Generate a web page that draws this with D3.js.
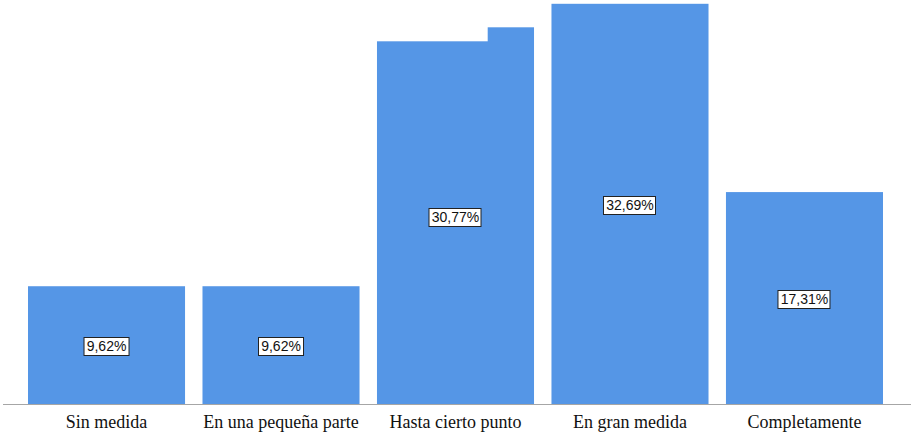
<!DOCTYPE html>
<html><head><meta charset="utf-8">
<script src="https://cdn.jsdelivr.net/npm/d3@7"></script>
<style>body{margin:0;background:#fff;}</style>
</head><body>
<svg id="c" width="911" height="432"></svg>
<script>
const categories = ["Sin medida", "En una pequeña parte", "Hasta cierto punto", "En gran medida", "Completamente"];
const values = [9.62, 9.62, 30.77, 32.69, 17.31];
const labels = ["9,62%", "9,62%", "30,77%", "32,69%", "17,31%"];

const svg = d3.select("#c");
const x = d3.scaleBand().domain(categories).range([28, 883]).paddingInner(0.1).paddingOuter(0);
const y = d3.scaleLinear().domain([0, 33]).range([404, 0]);

svg.selectAll("rect.bar").data(categories).join("rect")
  .attr("class", "bar")
  .attr("x", d => x(d))
  .attr("width", x.bandwidth())
  .attr("y", (d, i) => y(values[i]))
  .attr("height", (d, i) => y(0) - y(values[i]))
  .attr("fill", "#5596e6");

// white occluding area seen at top of third bar in the reference
const occ = categories[2];
svg.append("rect")
  .attr("x", x(occ) - 1)
  .attr("y", 0)
  .attr("width", x.bandwidth() * 0.705 + 1)
  .attr("height", y(values[2]) + 14)
  .attr("fill", "#fff");

// axis
const axis = d3.axisBottom(x).tickSize(0).tickPadding(11);
const g = svg.append("g").attr("transform", `translate(0,${y(0)})`).call(axis);
g.select(".domain").remove();
g.append("line").attr("x1", 3).attr("x2", 911).attr("y1", 0.5).attr("y2", 0.5)
  .attr("stroke", "#a6a6a6").attr("stroke-width", 1);
g.selectAll(".tick text")
  .attr("font-family", "'Liberation Serif', 'Times New Roman', serif")
  .attr("font-size", 18).attr("fill", "#111");

// value labels
const lg = svg.selectAll("g.lbl").data(categories).join("g").attr("class", "lbl")
  .attr("transform", (d, i) => `translate(${x(d) + x.bandwidth() / 2},${Math.round((y(values[i]) + y(0)) / 2 + 1)})`);
lg.append("text")
  .attr("text-anchor", "middle").attr("dy", "0.36em")
  .attr("font-family", "'Liberation Sans', Arial, sans-serif").attr("font-size", 14)
  .attr("fill", "#111")
  .text((d, i) => labels[i]);
lg.each(function() {
  const t = d3.select(this).select("text");
  const b = t.node().getBBox();
  d3.select(this).insert("rect", "text")
    .attr("x", Math.round(b.x - 3) + 0.5).attr("y", -8.5)
    .attr("width", Math.round(b.width + 5)).attr("height", 18)
    .attr("fill", "#fff").attr("stroke", "#222").attr("stroke-width", 1);
});
</script>
</body></html>
